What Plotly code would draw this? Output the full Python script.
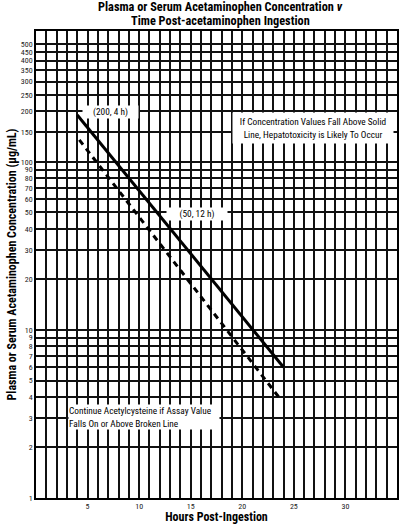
import math
import plotly.graph_objects as go

# treatment lines
solid_hours = [4, 24]
solid_conc = [190, 6]
dashed_hours = [4.2, 23.8]
dashed_conc = [135, 3.8]

y_ticks = [1, 2, 3, 4, 5, 6, 7, 8, 9, 10, 20, 30, 40, 50, 60, 70, 80, 90,
           100, 150, 200, 250, 300, 350, 400, 450, 500]
x_ticks = [5, 10, 15, 20, 25, 30, 35]

FONT = "Roboto Condensed, DejaVu Sans Condensed, sans-serif"
INK = "#111111"

fig = go.Figure()

fig.add_trace(go.Scatter(x=solid_hours, y=solid_conc, mode='lines',
                         line=dict(color='black', width=3), showlegend=False))
fig.add_trace(go.Scatter(x=dashed_hours, y=dashed_conc, mode='lines',
                         line=dict(color='black', width=3, dash='6px,5px'),
                         showlegend=False))

# label boxes (white background hides the grid behind them)
labels = [
    ("(200, 4 h)", 7.18, 2.298, 55, 12, 'center'),
    ("(50, 12 h)", 15.6, 1.690, 60, 12, 'center'),
    ("If Concentration Values Fall Above Solid<br>Line, Hepatotoxicity is Likely To Occur",
     26.87, 2.202, 160, 30, 'center'),
    ("Continue Acetylcysteine if Assay Value<br>Falls On or Above Broken Line",
     10.47, 0.479, 150, 24, 'left'),
]
for txt, x, y, w, h, al in labels:
    fig.add_annotation(x=x, y=y, xref='x', yref='y', text=txt, showarrow=False,
                       bgcolor='white', width=w, height=h, align=al,
                       borderpad=0, font=dict(family=FONT, size=9.3, color='black'))

# two-line title above the grid, one annotation per line
title_lines = ["<b>Plasma or Serum Acetaminophen Concentration <i>v</i></b>",
               "<b>Time Post-acetaminophen Ingestion</b>"]
for line, ty in zip(title_lines, [1.0514, 1.0214]):
    fig.add_annotation(x=0.51, y=ty, xref='paper', yref='paper', xanchor='center',
                       yanchor='middle', showarrow=False, text=line,
                       font=dict(family=FONT, size=12.3, color='black'))

fig.update_layout(
    width=400, height=524,
    margin=dict(l=36, r=3, t=31, b=26),
    paper_bgcolor='white', plot_bgcolor='white',
    font=dict(family=FONT, color=INK),
    xaxis=dict(
        range=[0, 35], tickvals=x_ticks, ticks='', automargin=False,
        tickfont=dict(size=8, color='#222222'),
        showgrid=True, gridcolor=INK, gridwidth=1.6,
        minor=dict(dtick=1, tick0=0, showgrid=True, gridcolor=INK, gridwidth=1.6),
        showline=True, mirror=True, linecolor='black', linewidth=1.5,
        zeroline=False,
        title=dict(text="<b>Hours Post-Ingestion</b>", standoff=3,
                   font=dict(family=FONT, size=12, color='black')),
    ),
    yaxis=dict(
        type='log', range=[0, math.log10(600)], automargin=False,
        tickvals=y_ticks, ticktext=[str(v) for v in y_ticks], ticks='',
        tickfont=dict(size=8, color='#222222'),
        showgrid=True, gridcolor=INK, gridwidth=1.9,
        showline=True, mirror=True, linecolor='black', linewidth=1.5,
        zeroline=False,
        title=dict(text="<b>Plasma or Serum Acetaminophen Concentration (µg/mL)</b>",
                   standoff=2, font=dict(family=FONT, size=12, color='black')),
    ),
)

fig.write_html("out.html", config={'displayModeBar': False},
               post_script="document.body.style.margin='0px';")
